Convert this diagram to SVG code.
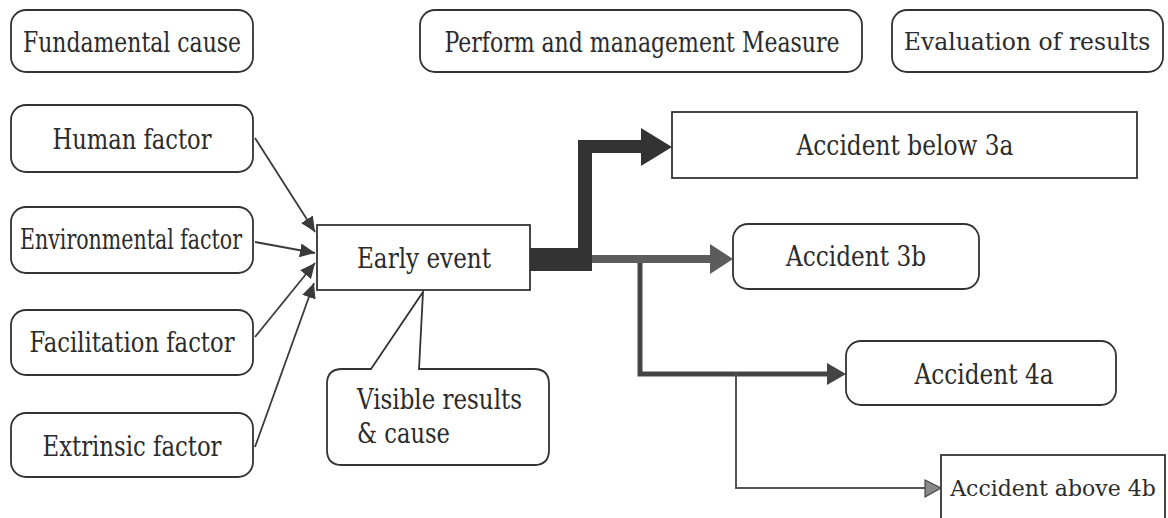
<svg xmlns="http://www.w3.org/2000/svg" width="1168" height="518" viewBox="0 0 1168 518">
<style>
.box{fill:#fff;stroke:#333;stroke-width:1.8}
text{font-family:'DejaVu Serif','Liberation Serif',serif;font-size:27px;fill:#2b2b2b}
.c{text-anchor:middle}
.ln{fill:none;stroke:#3a3a3a;stroke-width:1.8}
</style>
<defs>
<marker id="ah" markerUnits="userSpaceOnUse" markerWidth="16" markerHeight="14" refX="15" refY="7" orient="auto">
<path d="M0,0 L15,7 L0,14 Z" fill="#3a3a3a"/>
</marker>
</defs>
<rect width="1168" height="518" fill="#fff"/>

<g id="fundamental">
<rect class="box" x="11" y="10" width="242" height="62" rx="15"/>
<text class="c" x="132" y="52" textLength="218" lengthAdjust="spacingAndGlyphs">Fundamental cause</text>
</g>
<g id="perform">
<rect class="box" x="420" y="10" width="442" height="62" rx="15"/>
<text class="c" x="642" y="52" textLength="395" lengthAdjust="spacingAndGlyphs">Perform and management Measure</text>
</g>
<g id="evaluation">
<rect class="box" x="892" y="10" width="271" height="62" rx="15"/>
<text class="c" x="1027" y="50" style="font-size:23.5px">Evaluation of results</text>
</g>

<g id="human">
<rect class="box" x="11" y="105" width="242" height="67" rx="15"/>
<text class="c" x="132" y="149" textLength="159" lengthAdjust="spacingAndGlyphs">Human factor</text>
</g>
<g id="environmental">
<rect class="box" x="11" y="207" width="242" height="66" rx="15"/>
<text class="c" x="131" y="249" textLength="222" lengthAdjust="spacingAndGlyphs">Environmental factor</text>
</g>
<g id="facilitation">
<rect class="box" x="11" y="310" width="242" height="65" rx="15"/>
<text class="c" x="132" y="352" textLength="205" lengthAdjust="spacingAndGlyphs">Facilitation factor</text>
</g>
<g id="extrinsic">
<rect class="box" x="11" y="413" width="242" height="64" rx="15"/>
<text class="c" x="132" y="456" textLength="179" lengthAdjust="spacingAndGlyphs">Extrinsic factor</text>
</g>

<g id="early">
<rect class="box" x="317" y="225" width="213" height="65"/>
<text class="c" x="424" y="268" textLength="134" lengthAdjust="spacingAndGlyphs">Early event</text>
</g>

<g id="visible">
<path class="box" d="M371,369 L423,292 L419,369 H534 Q549,369 549,384 V450 Q549,465 534,465 H342 Q327,465 327,450 V384 Q327,369 342,369 Z"/>
<text x="357" y="409" textLength="165" lengthAdjust="spacingAndGlyphs">Visible results</text>
<text x="357" y="443" textLength="93" lengthAdjust="spacingAndGlyphs">&amp; cause</text>
</g>

<g id="acc3a">
<rect class="box" x="672" y="112" width="465" height="66"/>
<text class="c" x="905" y="155" textLength="217" lengthAdjust="spacingAndGlyphs">Accident below 3a</text>
</g>
<g id="acc3b">
<rect class="box" x="733" y="224" width="246" height="65" rx="15"/>
<text class="c" x="856" y="266" textLength="140" lengthAdjust="spacingAndGlyphs">Accident 3b</text>
</g>
<g id="acc4a">
<rect class="box" x="846" y="341" width="270" height="64" rx="15"/>
<text class="c" x="984" y="384" textLength="139" lengthAdjust="spacingAndGlyphs">Accident 4a</text>
</g>
<g id="acc4b">
<rect class="box" x="941" y="455" width="224" height="80"/>
<text class="c" x="1053" y="496" style="font-size:22px">Accident above 4b</text>
</g>

<g id="connectors">
<line class="ln" x1="255" y1="138" x2="315" y2="232" marker-end="url(#ah)"/>
<line class="ln" x1="255" y1="242" x2="315" y2="253" marker-end="url(#ah)"/>
<line class="ln" x1="255" y1="337" x2="315" y2="263" marker-end="url(#ah)"/>
<line class="ln" x1="255" y1="447" x2="314" y2="283" marker-end="url(#ah)"/>

<polygon points="530,248 578,248 578,140 641,140 641,128 672,147 641,166 641,153 592,153 592,271 530,271" fill="#333"/>
<polygon points="592,255 710,255 710,244 733,259 710,274 710,263 592,263" fill="#5c5c5c"/>
<path d="M640,263 V374 H828" fill="none" stroke="#444" stroke-width="5"/>
<polygon points="827,363 846,374 827,385" fill="#444"/>
<path d="M736,374 V488 H926" fill="none" stroke="#555" stroke-width="2"/>
<polygon points="925,480 941,488 925,497" fill="#888" stroke="#444" stroke-width="1.2"/>
</g>
</svg>
